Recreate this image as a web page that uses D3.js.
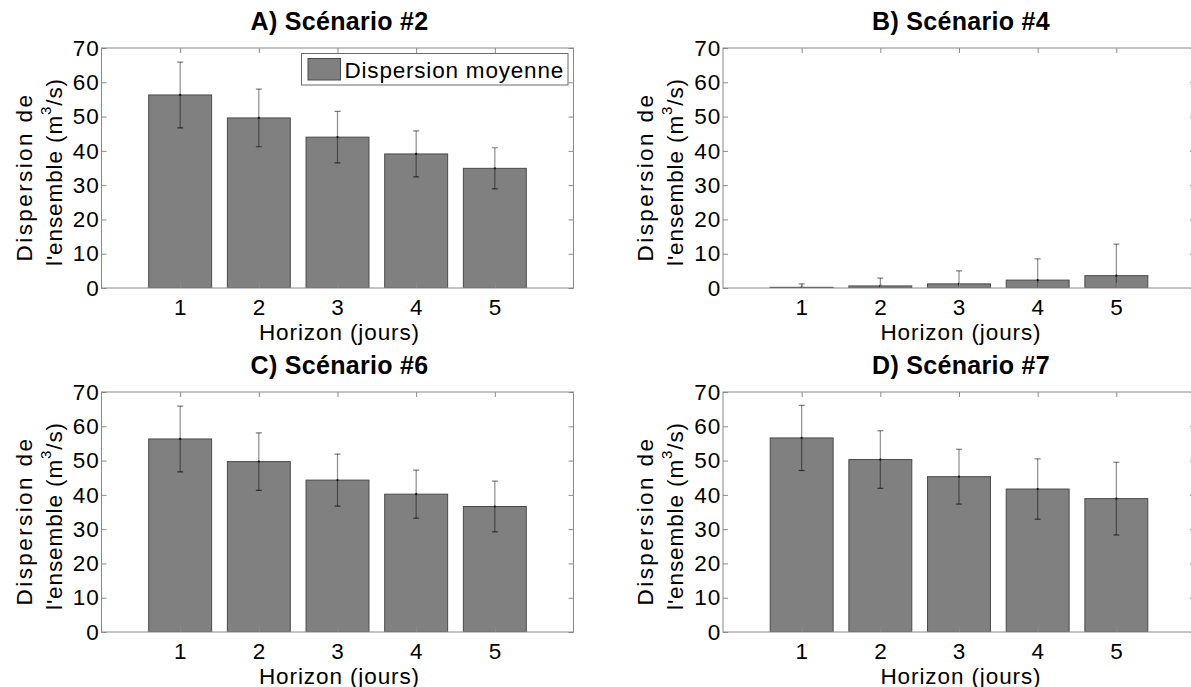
<!DOCTYPE html>
<html>
<head>
<meta charset="utf-8">
<script src="https://cdn.jsdelivr.net/npm/d3@7"></script>
<style>
  html, body { margin: 0; padding: 0; background: #fff; }
  svg { display: block; }
  text { font-family: "Liberation Sans", Arial, Helvetica, sans-serif; fill: #000; }
</style>
</head>
<body>
<svg id="chart" width="1191" height="687"></svg>
<script>
// ---- data ----
const categories = [1, 2, 3, 4, 5];
const yTicks = [0, 10, 20, 30, 40, 50, 60, 70];
const titles = ["A) Scénario #2", "B) Scénario #4", "C) Scénario #6", "D) Scénario #7"];
const xLabel = "Horizon (jours)";
const yLabel1 = "Dispersion de";
const legendLabel = "Dispersion moyenne";

const meanA = [56.3, 49.6, 44.0, 39.1, 34.9];
const errA  = [9.6, 8.4, 7.5, 6.7, 6.0];
const meanB = [0.2, 0.6, 1.2, 2.3, 3.6];
const errB  = [1.0, 2.3, 3.8, 6.2, 9.2];
const meanC = [56.3, 49.7, 44.3, 40.2, 36.6];
const errC  = [9.6, 8.4, 7.6, 7.0, 7.4];
const meanD = [56.6, 50.3, 45.3, 41.7, 38.9];
const errD  = [9.5, 8.4, 8.0, 8.8, 10.6];

const panels = [
  { title: titles[0], mean: meanA, err: errA, left: 101.5, top: 48,  legend: true },
  { title: titles[1], mean: meanB, err: errB, left: 723,   top: 48,  legend: false },
  { title: titles[2], mean: meanC, err: errC, left: 101.5, top: 392, legend: false },
  { title: titles[3], mean: meanD, err: errD, left: 723,   top: 392, legend: false }
];

const W = 472, H = 240;
const svg = d3.select("#chart");
svg.append("rect").attr("width", 1191).attr("height", 687).attr("fill", "#fff");

const axisColor = "#8a8a8a";
const fontSize = 22.5;
const ff = '"Liberation Sans", Arial, sans-serif';

panels.forEach((p, i) => {
  const x = d3.scaleLinear().domain([0, 6]).range([p.left, p.left + W]);
  const y = d3.scaleLinear().domain([0, 70]).range([p.top + H, p.top]);
  const bw = 0.8 * (x(1) - x(0));

  const g = svg.append("g");
  const clipId = "clip" + i;
  g.append("clipPath").attr("id", clipId).append("rect")
    .attr("x", p.left).attr("y", p.top).attr("width", W).attr("height", H);

  // bars
  const plot = g.append("g").attr("clip-path", `url(#${clipId})`);
  plot.selectAll("rect.bar").data(categories).join("rect")
    .attr("class", "bar")
    .attr("x", d => x(d) - bw / 2)
    .attr("width", bw)
    .attr("y", (d, k) => y(p.mean[k]))
    .attr("height", (d, k) => y(0) - y(p.mean[k]))
    .attr("fill", "#808080")
    .attr("stroke", "#4a4a4a")
    .attr("stroke-width", 1);

  // error bars
  const eb = plot.selectAll("g.err").data(categories).join("g").attr("class", "err");
  eb.append("line")
    .attr("x1", d => x(d)).attr("x2", d => x(d))
    .attr("y1", (d, k) => y(p.mean[k] - p.err[k]))
    .attr("y2", (d, k) => y(p.mean[k] + p.err[k]))
    .attr("stroke", "#000").attr("stroke-opacity", 0.45).attr("stroke-width", 1.2);
  eb.append("line")
    .attr("x1", d => x(d) - 3).attr("x2", d => x(d) + 3)
    .attr("y1", (d, k) => y(p.mean[k] + p.err[k]))
    .attr("y2", (d, k) => y(p.mean[k] + p.err[k]))
    .attr("stroke", "#000").attr("stroke-opacity", 0.5).attr("stroke-width", 1.2);
  eb.append("line")
    .attr("x1", d => x(d) - 3).attr("x2", d => x(d) + 3)
    .attr("y1", (d, k) => y(p.mean[k] - p.err[k]))
    .attr("y2", (d, k) => y(p.mean[k] - p.err[k]))
    .attr("stroke", "#000").attr("stroke-opacity", 0.6).attr("stroke-width", 1.2);
  eb.append("circle")
    .attr("cx", d => x(d)).attr("cy", (d, k) => y(p.mean[k]))
    .attr("r", 1.1).attr("fill", "#111");

  // axes
  const ax = (sel) => {
    sel.select(".domain").remove();
    sel.selectAll(".tick line").attr("stroke", axisColor);
  };
  const styleText = (s) => s.selectAll("text").attr("font-size", fontSize).attr("fill", "#000")
      .attr("font-family", ff).attr("letter-spacing", 0.8);
  g.append("g").attr("transform", `translate(0,${p.top + H})`)
    .call(d3.axisBottom(x).tickValues(categories).tickFormat(d3.format("d"))
      .tickSizeInner(-5).tickSizeOuter(0).tickPadding(11))
    .call(ax).call(styleText);
  g.append("g").attr("transform", `translate(0,${p.top})`)
    .call(d3.axisTop(x).tickValues(categories).tickSizeInner(-5).tickSizeOuter(0).tickFormat(""))
    .call(ax);
  g.append("g").attr("transform", `translate(${p.left},0)`)
    .call(d3.axisLeft(y).tickValues(yTicks).tickFormat(d3.format("d"))
      .tickSizeInner(-5).tickSizeOuter(0).tickPadding(2))
    .call(ax).call(styleText);
  g.append("g").attr("transform", `translate(${p.left + W},0)`)
    .call(d3.axisRight(y).tickValues(yTicks).tickSizeInner(-5).tickSizeOuter(0).tickFormat(""))
    .call(ax);

  // box
  g.append("rect")
    .attr("x", p.left).attr("y", p.top).attr("width", W).attr("height", H)
    .attr("fill", "none").attr("stroke", axisColor).attr("stroke-width", 1);

  // title
  const cx = x(3) + 2;
  g.append("text")
    .attr("x", cx).attr("y", p.top - 18)
    .attr("text-anchor", "middle")
    .attr("font-size", 25).attr("font-weight", "bold").attr("letter-spacing", 0.3)
    .text(p.title);

  // x label
  g.append("text")
    .attr("x", cx).attr("y", p.top + H + 51.5)
    .attr("text-anchor", "middle")
    .attr("font-size", fontSize).attr("letter-spacing", 0.9)
    .text(xLabel);

  // y label (two lines, rotated)
  const yc = p.top + H / 2 + 9;
  g.append("text")
    .attr("transform", `translate(${p.left - 70},${yc}) rotate(-90)`)
    .attr("text-anchor", "middle")
    .attr("font-size", fontSize).attr("letter-spacing", 2.4)
    .text(yLabel1);
  const t2 = g.append("text")
    .attr("transform", `translate(${p.left - 40},${yc - 5}) rotate(-90)`)
    .attr("text-anchor", "middle")
    .attr("font-size", fontSize).attr("letter-spacing", 0.9);
  t2.append("tspan").text("l'ensemble (m");
  t2.append("tspan").attr("dy", -11).attr("font-size", 15).text("3");
  t2.append("tspan").attr("dy", 11).text("/s)");

  // legend
  if (p.legend) {
    const lg = g.append("g");
    lg.append("rect")
      .attr("x", 301.5).attr("y", 53.5).attr("width", 266.5).attr("height", 31.5)
      .attr("fill", "#fff").attr("stroke", "#6a6a6a").attr("stroke-width", 1);
    lg.append("rect")
      .attr("x", 308).attr("y", 58.5).attr("width", 32.5).attr("height", 21.5)
      .attr("fill", "#808080").attr("stroke", "#4a4a4a").attr("stroke-width", 1);
    lg.append("text")
      .attr("x", 344.5).attr("y", 77.5)
      .attr("font-size", fontSize).attr("letter-spacing", 0.8)
      .text(legendLabel);
  }
});
</script>
</body>
</html>
